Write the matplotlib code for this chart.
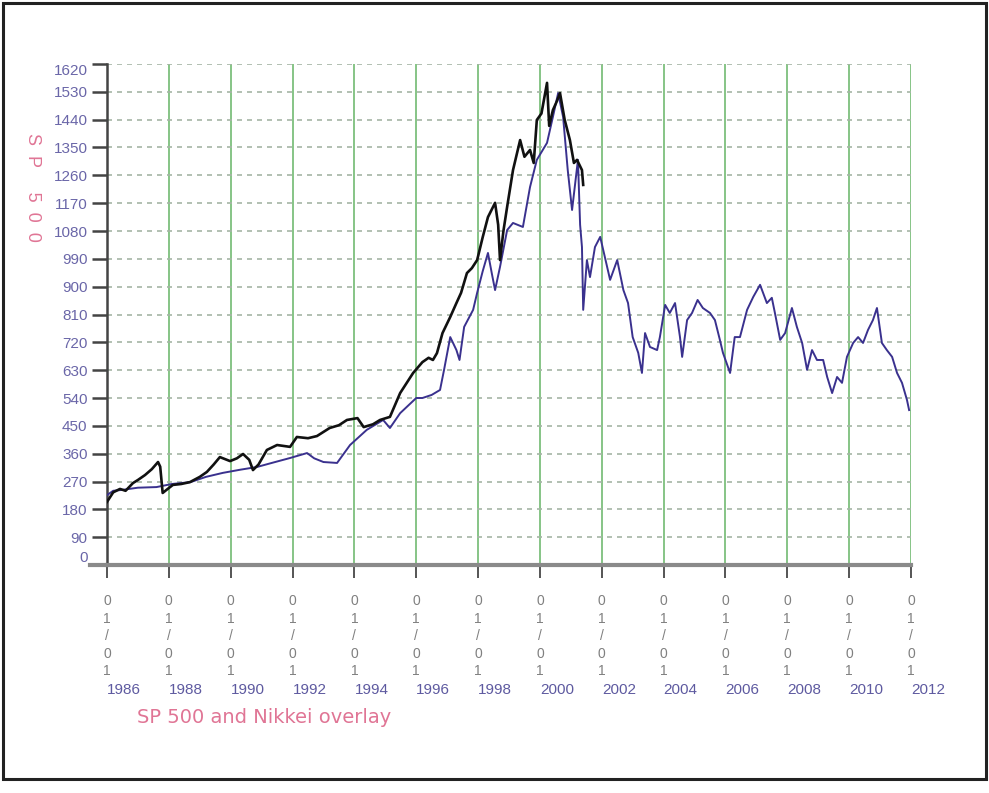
import matplotlib
matplotlib.use("Agg")
import matplotlib.pyplot as plt
from matplotlib.patches import Rectangle

plt.rcParams["font.family"] = ["Liberation Sans", "DejaVu Sans"]

# S&P 500 (black)
sp_years = [1986.0, 1986.2, 1986.42, 1986.6, 1986.84, 1987.0, 1987.23, 1987.45, 1987.65, 1987.72,
            1987.8, 1987.95, 1988.13, 1988.4, 1988.68, 1989.0, 1989.23, 1989.45, 1989.65, 1989.98,
            1990.2, 1990.4, 1990.6, 1990.72, 1990.9, 1991.17, 1991.5, 1991.92, 1992.14, 1992.5,
            1992.79, 1993.2, 1993.5, 1993.76, 1994.1, 1994.3, 1994.6, 1994.83, 1995.15, 1995.48,
            1995.9, 1996.2, 1996.4, 1996.54, 1996.67, 1996.85, 1997.1, 1997.3, 1997.45, 1997.64,
            1997.8, 1997.97, 1998.15, 1998.32, 1998.55, 1998.65, 1998.71, 1998.82, 1998.94, 1999.13,
            1999.36, 1999.5, 1999.68, 1999.8, 1999.9, 2000.05, 2000.23, 2000.3, 2000.42, 2000.55,
            2000.65, 2000.8, 2000.97, 2001.1, 2001.2, 2001.36, 2001.4]
sp_values = [204, 235, 246, 240, 265, 275, 291, 310, 333, 318,
             233, 245, 259, 262, 268, 285, 301, 325, 349, 336,
             345, 359, 340, 307, 325, 372, 388, 382, 414, 410,
             417, 443, 452, 469, 475, 446, 455, 469, 479, 556,
             621, 656, 670, 663, 685, 750, 802, 847, 880, 944,
             960, 986, 1060, 1125, 1171, 1100, 986, 1080, 1158, 1277,
             1374, 1320, 1342, 1300, 1439, 1460, 1559, 1420, 1471, 1500,
             1526, 1440, 1374, 1300, 1310, 1277, 1229]

# Nikkei overlay (blue)
nk_years = [1986.0, 1986.2, 1986.5, 1987.0, 1987.6, 1988.1, 1988.7, 1989.2, 1989.75, 1990.3,
            1990.85, 1991.4, 1991.92, 1992.47, 1992.7, 1993.0, 1993.44, 1993.86, 1994.4, 1994.93,
            1995.15, 1995.48, 1996.0, 1996.2, 1996.5, 1996.77, 1996.9, 1997.1, 1997.3, 1997.4,
            1997.55, 1997.84, 1997.97, 1998.15, 1998.32, 1998.45, 1998.55, 1998.71, 1998.94, 1999.13,
            1999.45, 1999.68, 1999.9, 2000.23, 2000.42, 2000.59, 2000.75, 2000.9, 2001.04, 2001.23,
            2001.3, 2001.36, 2001.4, 2001.52, 2001.62, 2001.78, 2001.95, 2002.1, 2002.27, 2002.5,
            2002.7, 2002.85, 2003.0, 2003.18, 2003.3, 2003.4, 2003.56, 2003.79, 2003.88, 2004.05,
            2004.2, 2004.37, 2004.53, 2004.6, 2004.76, 2004.92, 2005.1, 2005.27, 2005.5, 2005.66,
            2005.82, 2005.92, 2006.15, 2006.3, 2006.47, 2006.7, 2006.9, 2007.12, 2007.34, 2007.5,
            2007.6, 2007.77, 2007.93, 2008.15, 2008.31, 2008.48, 2008.64, 2008.8, 2008.96, 2009.16,
            2009.29, 2009.45, 2009.61, 2009.77, 2009.93, 2010.13, 2010.29, 2010.45, 2010.61, 2010.77,
            2010.9, 2011.06, 2011.22, 2011.39, 2011.55, 2011.71, 2011.87, 2011.94]
nk_values = [226, 240, 243, 250, 252, 262, 268, 285, 298, 308,
             317, 332, 346, 362, 345, 333, 330, 388, 437, 469,
             443, 491, 540, 540, 550, 566, 631, 737, 695, 663,
             770, 825, 880, 950, 1009, 940, 889, 964, 1083, 1106,
             1093, 1222, 1310, 1365, 1449, 1526, 1449, 1277, 1148, 1310,
             1100, 1028, 825, 986, 931, 1028, 1061, 996, 922, 986,
             889, 847, 737, 686, 621, 750, 705, 695, 737, 841,
             815, 847, 737, 673, 792, 815, 857, 831, 815, 792,
             728, 686, 621, 737, 737, 825, 867, 906, 847, 864,
             815, 728, 750, 831, 770, 718, 631, 695, 663, 663,
             608, 556, 608, 589, 673, 718, 737, 718, 760, 792,
             831, 718, 695, 673, 621, 589, 534, 501]

year_ticks = list(range(1986, 2013, 2))
value_ticks = list(range(0, 1621, 90))

fig = plt.figure(figsize=(9.89, 7.93), dpi=100)
ax = fig.add_axes([0.1082, 0.2875, 0.8129, 0.6318])

# grid first, lines on top
for yr in year_ticks:
    ax.axvline(yr, color="#86c486", lw=1.4, zorder=1)
for v in value_ticks[1:]:
    ax.axhline(v, color="#a5b5a5", lw=1.2, ls=(0, (3, 3)), zorder=1)

ax.plot(nk_years, nk_values, color="#3a318e", lw=1.4, zorder=3)
ax.plot(sp_years, sp_values, color="#111111", lw=1.9, zorder=4)

ax.set_xlim(1986, 2012)
ax.set_ylim(0, 1620)

ax.spines["top"].set_visible(False)
ax.spines["right"].set_visible(False)
ax.spines["left"].set_color("#444444")
ax.spines["left"].set_linewidth(1.8)
ax.spines["bottom"].set_color("#8a8a8a")
ax.spines["bottom"].set_linewidth(3)
# bottom rule runs a little past the left axis
ax.plot([-0.021, 0], [0, 0], transform=ax.transAxes, color="#8a8a8a", lw=3, clip_on=False)

ax.set_yticks(value_ticks)
ax.set_yticklabels([str(v) for v in value_ticks])
ax.tick_params(axis="y", direction="out", length=11, width=1.8, color="#444444",
               labelsize=11, labelcolor="#6a66a8", pad=3)
ylabels = ax.get_yticklabels()
ylabels[-1].set_va("top")
ylabels[0].set_va("bottom")

ax.set_xticks(year_ticks)
ax.set_xticklabels(["0\n1\n/\n0\n1"] * len(year_ticks), linespacing=1.32)
ax.tick_params(axis="x", direction="out", length=9, width=1.4, color="#555555",
               labelsize=10, labelcolor="#808080", pad=12)

for yr in year_ticks:
    ax.text(yr, -0.249, str(yr), transform=ax.get_xaxis_transform(), ha="left", va="center",
            fontsize=11, color="#5e5aa0")

fig.text(0.1385, 0.0946, "SP 500 and Nikkei overlay", ha="left", va="center",
         fontsize=14, color="#e07595", family="DejaVu Sans")
fig.text(0.0324, 0.764, "S  P     5  0  0", ha="center", va="center", rotation=-90,
         fontsize=13, color="#e07595")

fig.patches.append(Rectangle((0.003, 0.0177), 0.994, 0.978, transform=fig.transFigure,
                             fill=False, edgecolor="#222222", lw=2.2))

fig.savefig("out.png", dpi=100)
